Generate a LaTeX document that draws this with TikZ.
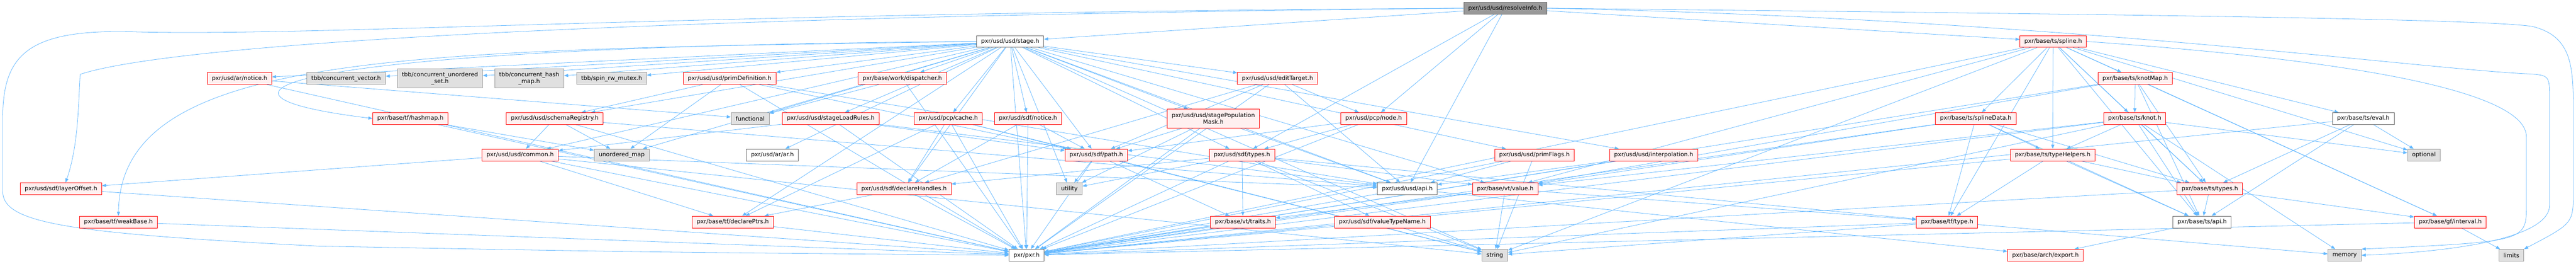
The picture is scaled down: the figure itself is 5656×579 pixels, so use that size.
\documentclass[tikz,border=0pt]{standalone}
\usepackage{fontspec}
\setmainfont{DejaVu Sans}
\usetikzlibrary{arrows.meta}
\definecolor{edgeblue}{HTML}{63B8FF}
\definecolor{hdrfill}{HTML}{FFF0F0}
\definecolor{sysfill}{HTML}{E0E0E0}
\definecolor{sysline}{HTML}{999999}
\definecolor{docline}{HTML}{666666}
\tikzstyle{hdr} = [rectangle, draw=red, fill=hdrfill, text centered, minimum height=26pt, inner xsep=10pt, inner ysep=2pt, line width=1pt]
\tikzstyle{sys} = [hdr, draw=sysline, fill=sysfill]
\tikzstyle{doc} = [hdr, draw=docline, fill=white]
\tikzstyle{root} = [hdr, draw=docline, fill=sysline]
\tikzstyle{twoline} = [align=center, minimum height=41pt]
\tikzset{
	dep/.style={draw=edgeblue, line width=0.9pt, -{Triangle[length=9pt,width=7pt]}}
	}
\pgfdeclarelayer{bg}
\pgfdeclarelayer{edges}
\pgfsetlayers{bg,edges,main}

\begin{document}
\begin{tikzpicture}[x=1pt, y=1pt, font=\fontsize{12.8}{15}\selectfont]
	\useasboundingbox (0,0) rectangle (5656,-579);
	\begin{pgfonlayer}{bg}
		\fill[white] (0,0) rectangle (5656,-579);
	\end{pgfonlayer}

	\node [root] (resolve) at (3305,-18) {pxr/usd/usd/resolveInfo.h};

	\node [doc] (stage) at (2218,-91) {pxr/usd/usd/stage.h};
	\node [hdr] (spline) at (4508,-91) {pxr/base/ts/spline.h};

	\node [hdr] (arnotice) at (526,-172) {pxr/usd/ar/notice.h};
	\node [sys] (cvec) at (760,-172) {tbb/concurrent\_vector.h};
	\node [sys, twoline] (cuset) at (966,-172) {tbb/concurrent\_unordered\\\_set.h};
	\node [sys, twoline] (chmap) at (1162,-172) {tbb/concurrent\_hash\\\_map.h};
	\node [sys] (spin) at (1343,-172) {tbb/spin\_rw\_mutex.h};
	\node [hdr] (primdef) at (1602,-172) {pxr/usd/usd/primDefinition.h};
	\node [hdr] (dispatcher) at (1981,-172) {pxr/base/work/dispatcher.h};
	\node [hdr] (edittarget) at (2805,-172) {pxr/usd/usd/editTarget.h};
	\node [hdr] (knotmap) at (4688,-172) {pxr/base/ts/knotMap.h};

	\node [hdr] (hashmap) at (901,-260) {pxr/base/tf/hashmap.h};
	\node [hdr] (schemareg) at (1218,-260) {pxr/usd/usd/schemaRegistry.h};
	\node [sys] (functional) at (1647,-260) {functional};
	\node [hdr] (loadrules) at (1824,-260) {pxr/usd/usd/stageLoadRules.h};
	\node [hdr] (pcpcache) at (2082,-260) {pxr/usd/pcp/cache.h};
	\node [hdr] (sdfnotice) at (2257,-260) {pxr/usd/sdf/notice.h};
	\node [hdr, twoline] (popmask) at (2664,-260) {pxr/usd/usd/stagePopulation\\Mask.h};
	\node [hdr] (pcpnode) at (3016,-260) {pxr/usd/pcp/node.h};
	\node [hdr] (splinedata) at (4338,-260) {pxr/base/ts/splineData.h};
	\node [hdr] (knot) at (4687,-260) {pxr/base/ts/knot.h};
	\node [doc] (eval) at (5189,-260) {pxr/base/ts/eval.h};

	\node [hdr] (common) at (1142,-340) {pxr/usd/usd/common.h};
	\node [sys] (umap) at (1365,-340) {unordered\_map};
	\node [doc] (arar) at (1696,-340) {pxr/usd/ar/ar.h};
	\node [hdr] (sdfpath) at (2407,-340) {pxr/usd/sdf/path.h};
	\node [hdr] (sdftypes) at (2727,-340) {pxr/usd/sdf/types.h};
	\node [hdr] (primflags) at (3369,-340) {pxr/usd/usd/primFlags.h};
	\node [hdr] (interp) at (3631,-340) {pxr/usd/usd/interpolation.h};
	\node [hdr] (typehelpers) at (4507,-340) {pxr/base/ts/typeHelpers.h};
	\node [sys] (optional) at (5322,-340) {optional};

	\node [hdr] (layeroffset) at (134,-414) {pxr/usd/sdf/layerOffset.h};
	\node [hdr] (declhandles) at (1985,-414) {pxr/usd/sdf/declareHandles.h};
	\node [sys] (utility) at (2348,-414) {utility};
	\node [doc] (usdapi) at (3090,-414) {pxr/usd/usd/api.h};
	\node [hdr] (vtvalue) at (3305,-414) {pxr/base/vt/value.h};
	\node [hdr] (tstypes) at (4852,-414) {pxr/base/ts/types.h};

	\node [hdr] (weakbase) at (260,-487) {pxr/base/tf/weakBase.h};
	\node [hdr] (declptrs) at (1609,-487) {pxr/base/tf/declarePtrs.h};
	\node [hdr] (vttraits) at (2729,-487) {pxr/base/vt/traits.h};
	\node [hdr] (valuetypename) at (3035,-487) {pxr/usd/sdf/valueTypeName.h};
	\node [hdr] (tftype) at (4275,-487) {pxr/base/tf/type.h};
	\node [doc] (tsapi) at (4835,-487) {pxr/base/ts/api.h};
	\node [hdr] (interval) at (5380,-487) {pxr/base/gf/interval.h};

	\node [doc] (pxr) at (2254,-560) {pxr/pxr.h};
	\node [sys] (string) at (3282,-560) {string};
	\node [hdr] (archexport) at (4491,-560) {pxr/base/arch/export.h};
	\node [sys] (memory) at (5148,-560) {memory};
	\node [sys] (limits) at (5514,-560) {limits};

	\begin{pgfonlayer}{edges}
		\foreach \t in {stage,pcpnode,usdapi,sdftypes,spline}
			\draw[dep] (resolve) -- (\t);
		\draw[dep] (resolve.west) .. controls (1500,-35) and (400,-90) .. (176,-163) .. controls (172,-230) and (172,-320) .. ([xshift=10pt]layeroffset.north);
		\draw[dep] (resolve.west) .. controls (1500,-28) and (700,-80) .. (300,-70) .. controls (60,-62) and (6,-120) .. (6,-260) -- (6,-420) .. controls (6,-490) and (150,-512) .. (700,-540) .. controls (1400,-553) .. (pxr.west);
		\draw[dep] (resolve.east) .. controls (4500,-30) and (5450,-40) .. (5560,-58) .. controls (5650,-80) and (5650,-150) .. (5650,-250) -- (5650,-420) .. controls (5650,-490) .. (limits.north east);
		\draw[dep] (resolve.east) .. controls (4500,-40) and (5300,-150) .. (5550,-162) .. controls (5598,-165) .. (5598,-220) -- (5598,-450) .. controls (5598,-520) and (5400,-552) .. (memory.east);

		\foreach \t in {arnotice,cvec,cuset,chmap,spin,primdef,dispatcher,edittarget,schemareg,functional,loadrules,pcpcache,sdfnotice,popmask,common,umap,arar,sdfpath,sdftypes,primflags,interp,declhandles,utility,usdapi,vtvalue,declptrs,pxr,string}
			\draw[dep] (stage) -- (\t);
		\draw[dep] (stage.west) .. controls (900,-110) and (265,-110) .. (weakbase.north);
		\draw[dep] (stage.west) .. controls (700,-100) and (330,-200) .. (hashmap.west);

		\foreach \t in {knotmap,knot,splinedata,typehelpers,eval,tstypes,tsapi,tftype,vtvalue,optional,interval,pxr,string}
			\draw[dep] (spline) -- (\t);
		\draw[dep] (spline.east) .. controls (5000,-120) and (5547,-180) .. (5547,-300) -- (5547,-450) .. controls (5547,-530) .. (memory.north east);

		\foreach \t in {knot,tstypes,tsapi,interval,vtvalue,pxr}
			\draw[dep] (knotmap) -- (\t);
		\foreach \t in {typehelpers,tstypes,tsapi,optional,memory,vtvalue,pxr,string}
			\draw[dep] (knot) -- (\t);
		\foreach \t in {tstypes,tsapi,optional,pxr}
			\draw[dep] (eval) -- (\t);
		\foreach \t in {tftype,typehelpers,tstypes,tsapi,vtvalue,pxr}
			\draw[dep] (splinedata) -- (\t);
		\foreach \t in {tstypes,tsapi,tftype,pxr}
			\draw[dep] (typehelpers) -- (\t);
		\foreach \t in {tsapi,interval,pxr}
			\draw[dep] (tstypes) -- (\t);
		\draw[dep] (tsapi) -- (archexport);
		\foreach \t in {limits,pxr}
			\draw[dep] (interval) -- (\t);
		\foreach \t in {pxr,string,memory}
			\draw[dep] (tftype) -- (\t);

		\foreach \t in {pxr,vttraits,tftype,string}
			\draw[dep] (vtvalue) -- (\t);
		\draw[dep] (vttraits) -- (pxr);
		\foreach \t in {pxr,string}
			\draw[dep] (valuetypename) -- (\t);
		\foreach \t in {pxr,usdapi,string}
			\draw[dep] (primflags) -- (\t);
		\foreach \t in {pxr,usdapi}
			\draw[dep] (interp) -- (\t);
		\foreach \t in {pxr,archexport}
			\draw[dep] (usdapi) -- (\t);
		\foreach \t in {pxr,declhandles,vttraits,valuetypename,vtvalue,string,tftype,utility}
			\draw[dep] (sdftypes) -- (\t);
		\foreach \t in {pxr,utility,vttraits,string}
			\draw[dep] (sdfpath) -- (\t);
		\foreach \t in {pxr,sdfpath,sdftypes}
			\draw[dep] (pcpnode) -- (\t);
		\foreach \t in {pxr,usdapi,pcpnode,sdfpath,declhandles}
			\draw[dep] (edittarget) -- (\t);
		\foreach \t in {pxr,usdapi,sdfpath,utility}
			\draw[dep] (popmask) -- (\t);
		\foreach \t in {pxr,declhandles,sdfpath}
			\draw[dep] (sdfnotice) -- (\t);
		\foreach \t in {pxr,declhandles,sdfpath,declptrs,string}
			\draw[dep] (pcpcache) -- (\t);
		\foreach \t in {pxr,usdapi,sdfpath,common}
			\draw[dep] (loadrules) -- (\t);
		\foreach \t in {pxr,functional}
			\draw[dep] (dispatcher) -- (\t);
		\foreach \t in {schemareg,umap,pxr,usdapi,sdfpath}
			\draw[dep] (primdef) -- (\t);
		\foreach \t in {common,umap,pxr,usdapi}
			\draw[dep] (schemareg) -- (\t);
		\foreach \t in {pxr,usdapi,declptrs,layeroffset,string}
			\draw[dep] (common) -- (\t);
		\foreach \t in {pxr,umap}
			\draw[dep] (hashmap) -- (\t);
		\foreach \t in {pxr,functional}
			\draw[dep] (arnotice) -- (\t);
		\foreach \t in {pxr,declptrs}
			\draw[dep] (declhandles) -- (\t);
		\draw[dep] (declptrs) -- (pxr);
		\draw[dep] (weakbase) -- (pxr);
		\draw[dep] (layeroffset) -- (pxr);
	\end{pgfonlayer}
\end{tikzpicture}
\end{document}
